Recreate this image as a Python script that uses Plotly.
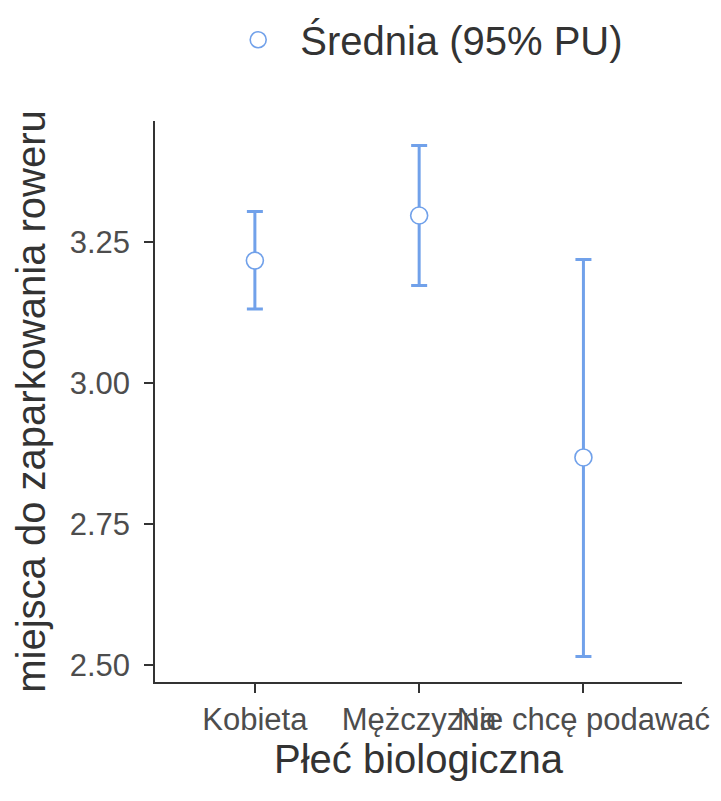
import plotly.graph_objects as go

categories = ["Kobieta", "Mężczyzna", "Nie chcę podawać"]
means = [3.217, 3.297, 2.868]
ci_low = [3.131, 3.173, 2.515]
ci_high = [3.304, 3.421, 3.219]
y_ticks = [2.50, 2.75, 3.00, 3.25]
y_tick_text = ["2.50", "2.75", "3.00", "3.25"]

err_plus = [h - m for h, m in zip(ci_high, means)]
err_minus = [m - l for m, l in zip(means, ci_low)]

BLUE = "#71A1EA"
FONT = "Arial, Liberation Sans, sans-serif"

fig = go.Figure()
fig.add_trace(go.Scatter(
    x=[0, 1, 2], y=means, mode="markers",
    name="Średnia (95% PU)",
    marker=dict(symbol="circle", size=17, color="white",
                line=dict(color=BLUE, width=1.6)),
    error_y=dict(type="data", array=err_plus, arrayminus=err_minus,
                 color=BLUE, thickness=3, width=8),
    showlegend=True,
))

fig.update_layout(
    width=713, height=793,
    paper_bgcolor="white", plot_bgcolor="white",
    margin=dict(l=147, r=39, t=113, b=119),
    font=dict(family=FONT, color="#333333"),
    showlegend=True,
    legend=dict(orientation="h", xref="container", yref="container",
                x=0.292, y=0.96, xanchor="left", yanchor="middle",
                itemwidth=74,
                font=dict(size=40, color="#333333")),
    xaxis=dict(
        range=[-0.608, 2.6], tickmode="array", tickvals=[0, 1, 2],
        ticktext=categories, tickangle=0, automargin=True,
        showline=True, linecolor="#333333", linewidth=1.5,
        ticks="outside", ticklen=9, tickwidth=1.5, tickcolor="#333333",
        showgrid=False, zeroline=False,
        tickfont=dict(size=31, color="#4D4D4D"),
        title=dict(text="Płeć biologiczna", font=dict(size=40, color="#333333"), standoff=2),
    ),
    yaxis=dict(
        range=[2.4699, 3.4645], tickmode="array", tickvals=y_ticks, ticktext=y_tick_text,
        automargin=False, ticklabelstandoff=8,
        showline=True, linecolor="#333333", linewidth=1.5,
        ticks="outside", ticklen=9, tickwidth=1.5, tickcolor="#333333",
        showgrid=False, zeroline=False,
        tickfont=dict(size=31, color="#4D4D4D"),
        title=dict(text="miejsca do zaparkowania roweru", font=dict(size=40, color="#333333"), standoff=12),
    ),
)

fig.write_html("out.html")
